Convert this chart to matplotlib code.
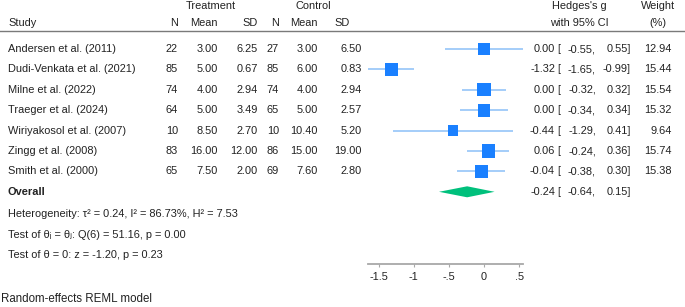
import matplotlib
matplotlib.use("Agg")
import matplotlib.pyplot as plt
from matplotlib import transforms
from matplotlib.lines import Line2D
import numpy as np

plt.rcParams['font.family'] = ['Liberation Sans', 'DejaVu Sans']

studies = ["Andersen et al. (2011)", "Dudi-Venkata et al. (2021)", "Milne et al. (2022)",
           "Traeger et al. (2024)", "Wiriyakosol et al. (2007)", "Zingg et al. (2008)",
           "Smith et al. (2000)"]
t_n = [22, 85, 74, 64, 10, 83, 65]
t_mean = [3.00, 5.00, 4.00, 5.00, 8.50, 16.00, 7.50]
t_sd = [6.25, 0.67, 2.94, 3.49, 2.70, 12.00, 2.00]
c_n = [27, 85, 74, 65, 10, 86, 69]
c_mean = [3.00, 6.00, 4.00, 5.00, 10.40, 15.00, 7.60]
c_sd = [6.50, 0.83, 2.94, 2.57, 5.20, 19.00, 2.80]
g = [0.00, -1.32, 0.00, 0.00, -0.44, 0.06, -0.04]
g_lo = [-0.55, -1.65, -0.32, -0.34, -1.29, -0.24, -0.38]
g_hi = [0.55, -0.99, 0.32, 0.34, 0.41, 0.36, 0.30]
weight = [12.94, 15.44, 15.54, 15.32, 9.64, 15.74, 15.38]
overall = (-0.24, -0.64, 0.15)
xticks = [-1.5, -1, -0.5, 0, 0.5]
xtick_labels = ["-1.5", "-1", "-.5", "0", ".5"]
stats_lines = ["Heterogeneity: τ² = 0.24, I² = 86.73%, H² = 7.53",
               "Test of θᵢ = θⱼ: Q(6) = 51.16, p = 0.00",
               "Test of θ = 0: z = -1.20, p = 0.23"]
footnote = "Random-effects REML model"

W, H = 685, 307
fig = plt.figure(figsize=(W / 100, H / 100), dpi=100)
fig.patch.set_facecolor('white')

# forest axes
ax_l, ax_r, ax_t, ax_b = 368, 523, 40, 264
ax = fig.add_axes([ax_l / W, 1 - ax_b / H, (ax_r - ax_l) / W, (ax_b - ax_t) / H])
scale = 70.3
x0px = 484
ax.set_xlim((ax_l - x0px) / scale, (ax_r - x0px) / scale)
row0, rowh = 49, 20.4
ax.set_ylim((ax_b - row0) / rowh, (ax_t - row0) / rowh)
for s in ['top', 'right', 'left']:
    ax.spines[s].set_visible(False)
ax.spines['bottom'].set_color('#a8a8a8')
ax.spines['bottom'].set_linewidth(1.3)
ax.set_yticks([])
ax.set_xticks(xticks)
ax.set_xticklabels(xtick_labels)
ax.tick_params(axis='x', direction='out', length=2.5, width=0.8, color='#a8a8a8',
               labelsize=7.9, labelcolor='#222222', pad=3)
ax.patch.set_alpha(0)

txtc = '#222222'
fs = 7.9
rows = np.arange(len(studies))
sq_col = '#1a80ff'
ci_col = '#8cc0f8'
ax.hlines(rows, g_lo, g_hi, color=ci_col, lw=1.1, zorder=2)
side_px = 13 * np.sqrt(np.array(weight) / 15.44)
ax.scatter(g, rows, marker='s', s=(side_px * 0.72) ** 2, color=sq_col, linewidths=0, zorder=3)

oy = len(studies)
og, olo, ohi = overall
dh = 0.27
ax.fill([olo, og, ohi, og], [oy, oy - dh, oy, oy + dh], color='#00c07c', lw=0, zorder=3)

# table text
tr = transforms.blended_transform_factory(fig.transFigure, ax.transData)
def tx(px, row, s, ha='right', **kw):
    ax.text(px / W, row, s, transform=tr, ha=ha, va='center', fontsize=fs, color=txtc,
            clip_on=False, **kw)

for i in rows:
    tx(8, i, studies[i], ha='left')
    tx(178, i, f"{t_n[i]}")
    tx(218, i, f"{t_mean[i]:.2f}")
    tx(258, i, f"{t_sd[i]:.2f}")
    tx(279, i, f"{c_n[i]}")
    tx(318, i, f"{c_mean[i]:.2f}")
    tx(362, i, f"{c_sd[i]:.2f}")
    tx(555, i, f"{g[i]:.2f}")
    tx(557, i, "[", ha='left')
    tx(596, i, f"{g_lo[i]:.2f},")
    tx(631, i, f"{g_hi[i]:.2f}]")
    tx(672, i, f"{weight[i]:.2f}")

tx(8, oy, "Overall", ha='left', fontweight='bold')
tx(555, oy, f"{og:.2f}")
tx(557, oy, "[", ha='left')
tx(596, oy, f"{olo:.2f},")
tx(631, oy, f"{ohi:.2f}]")

# headers
def ftx(px, py, s, ha='right', size=fs, **kw):
    fig.text(px / W, 1 - py / H, s, ha=ha, va='center', fontsize=size, color=txtc, **kw)

ftx(211, 6, "Treatment", ha='center')
ftx(313, 6, "Control", ha='center')
ftx(579, 6, "Hedges's g", ha='center')
ftx(658, 6, "Weight", ha='center')
ftx(8, 23, "Study", ha='left')
ftx(178, 23, "N")
ftx(218, 23, "Mean")
ftx(258, 23, "SD")
ftx(279, 23, "N")
ftx(318, 23, "Mean")
ftx(350, 23, "SD")
ftx(579, 23, "with 95% CI", ha='center')
ftx(658, 23, "(%)", ha='center')

fig.add_artist(Line2D([0, 1], [1 - 31 / H] * 2, color='#7a7a7a', lw=1.0,
                      transform=fig.transFigure))

for k, line in enumerate(stats_lines):
    ftx(8, 214 + 20.5 * k, line, ha='left')
ftx(1, 299, footnote, ha='left', size=8.3)

fig.savefig("out.png", dpi=100, facecolor='white')
